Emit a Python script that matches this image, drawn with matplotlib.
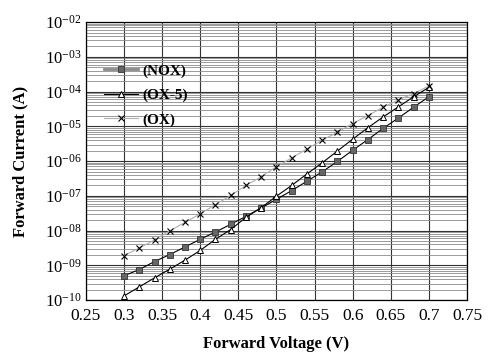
import numpy as np
import matplotlib.pyplot as plt
from matplotlib.ticker import FixedLocator, LogLocator, FuncFormatter

plt.rcParams['font.family'] = ['Liberation Serif', 'DejaVu Serif']
plt.rcParams['mathtext.fontset'] = 'custom'
plt.rcParams['mathtext.rm'] = 'Liberation Serif'

# forward voltage (V)
voltage = [0.30, 0.32, 0.34, 0.36, 0.38, 0.40, 0.42, 0.44, 0.46, 0.48, 0.50,
           0.52, 0.54, 0.56, 0.58, 0.60, 0.62, 0.64, 0.66, 0.68, 0.70]

# log10 of forward current (A)
log_nox = [-9.30, -9.12, -8.89, -8.69, -8.47, -8.25, -8.04, -7.82, -7.59, -7.35, -7.10,
           -6.85, -6.58, -6.31, -6.01, -5.69, -5.38, -5.06, -4.76, -4.45, -4.15]
log_ox5 = [-9.88, -9.62, -9.36, -9.11, -8.85, -8.57, -8.25, -7.97, -7.62, -7.34, -7.01,
           -6.70, -6.37, -6.05, -5.71, -5.37, -5.04, -4.73, -4.44, -4.15, -3.88]
log_ox = [-8.72, -8.50, -8.27, -8.01, -7.76, -7.52, -7.25, -6.99, -6.70, -6.45, -6.16,
          -5.91, -5.65, -5.40, -5.17, -4.92, -4.69, -4.45, -4.24, -4.06, -3.84]

x_ticks = [0.25, 0.3, 0.35, 0.4, 0.45, 0.5, 0.55, 0.6, 0.65, 0.7, 0.75]
x_tick_labels = ['0.25', '0.3', '0.35', '0.4', '0.45', '0.5', '0.55', '0.6', '0.65', '0.7', '0.75']

fig = plt.figure(figsize=(4.91, 3.56), dpi=100)
ax = fig.add_axes([0.175, 0.157, 0.776, 0.781])

v = np.array(voltage)
ax.plot(v, 10 ** np.array(log_nox), color='black', lw=0.8, marker='s', ms=3.8,
        mfc='#666666', mec='#333333', mew=0.6, label='(NOX)', zorder=3)
ax.plot(v, 10 ** np.array(log_ox5), color='black', lw=0.8, marker='^', ms=5,
        mfc='white', mec='black', mew=0.7, label='(OX-5)', zorder=3)
ax.plot(v, 10 ** np.array(log_ox), color='#b0b0b0', lw=0.8, marker='x', ms=4.5,
        mec='black', mew=0.8, label='(OX)', zorder=3)

ax.set_yscale('log')
ax.set_xlim(0.25, 0.75)
ax.set_ylim(1e-10, 1e-2)

ax.xaxis.set_major_locator(FixedLocator(x_ticks))
ax.set_xticklabels(x_tick_labels)
ax.yaxis.set_major_locator(LogLocator(base=10, numticks=20))
ax.yaxis.set_minor_locator(LogLocator(base=10, subs=np.arange(2, 10), numticks=20))
ax.yaxis.set_major_formatter(FuncFormatter(
    lambda y, pos: r'$\mathregular{10^{-%02d}}$' % round(-np.log10(y))))
ax.yaxis.set_minor_formatter(FuncFormatter(lambda y, pos: ''))

ax.grid(True, which='major', axis='both', color='#333333', lw=0.8)
ax.grid(True, which='minor', axis='y', color='#8a8a8a', lw=0.6)
ax.tick_params(axis='x', which='both', length=0, labelsize=12.5, pad=6)
ax.tick_params(axis='y', which='both', length=0, labelsize=12, pad=3)
for sp in ax.spines.values():
    sp.set_linewidth(0.9)

ax.set_xlabel('Forward Voltage (V)', fontsize=12, fontweight='bold', labelpad=8)
ax.set_ylabel('Forward Current (A)', fontsize=12, fontweight='bold', labelpad=12)

leg = ax.legend(loc='center left', bbox_to_anchor=(0.012, 0.737), frameon=False,
                prop={'weight': 'bold', 'size': 11}, handlelength=2.2,
                labelspacing=0.7, handletextpad=0.3)
leg.get_lines()[0].set_color('#8a8a8a')
leg.get_lines()[0].set_linewidth(2)

fig.savefig('out.png', dpi=100)
